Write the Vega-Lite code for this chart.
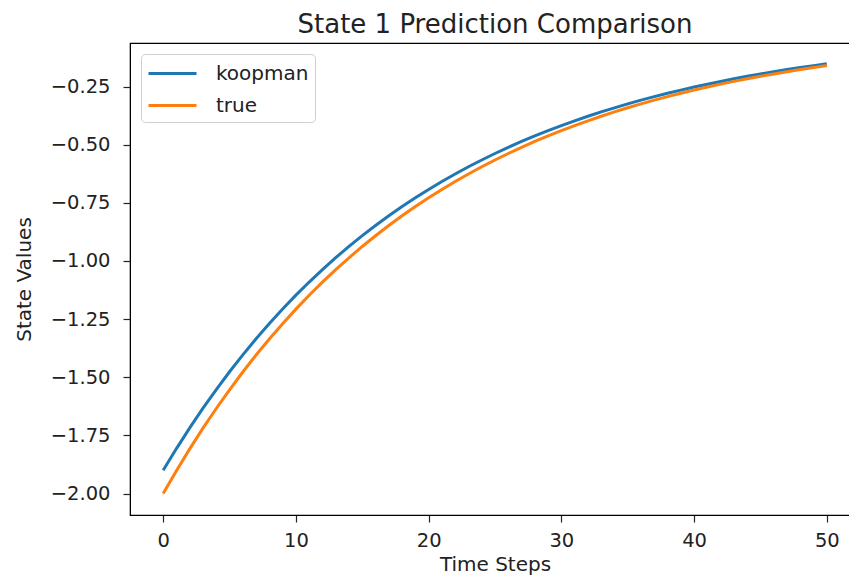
{
  "$schema": "https://vega.github.io/schema/vega-lite/v6.json",
  "width": 730,
  "height": 472,
  "autosize": {"type": "none"},
  "padding": {"left": 130, "top": 43, "right": 0, "bottom": 71},
  "background": "white",
  "title": {"text": "State 1 Prediction Comparison", "font": "DejaVu Sans", "fontSize": 26, "fontWeight": "normal", "color": "#222", "anchor": "middle", "offset": 5},
  "config": {
    "view": {"stroke": "#000", "strokeWidth": 1.2},
    "axis": {"labelFont": "DejaVu Sans", "titleFont": "DejaVu Sans", "labelFontSize": 19.5, "titleFontSize": 20, "titleFontWeight": "normal", "labelColor": "#222", "titleColor": "#222", "tickColor": "#222", "domainColor": "#000", "grid": false, "tickSize": 7, "tickWidth": 1.2}
  },
  "data": {"values": [
    {"t":0,"s":"koopman","v":-1.9000},{"t":1,"s":"koopman","v":-1.8065},{"t":2,"s":"koopman","v":-1.7176},{"t":3,"s":"koopman","v":-1.6330},{"t":4,"s":"koopman","v":-1.5527},
    {"t":5,"s":"koopman","v":-1.4762},{"t":6,"s":"koopman","v":-1.4036},{"t":7,"s":"koopman","v":-1.3345},{"t":8,"s":"koopman","v":-1.2688},{"t":9,"s":"koopman","v":-1.2064},
    {"t":10,"s":"koopman","v":-1.1470},{"t":11,"s":"koopman","v":-1.0906},{"t":12,"s":"koopman","v":-1.0369},{"t":13,"s":"koopman","v":-0.9858},{"t":14,"s":"koopman","v":-0.9374},
    {"t":15,"s":"koopman","v":-0.8912},{"t":16,"s":"koopman","v":-0.8473},{"t":17,"s":"koopman","v":-0.8056},{"t":18,"s":"koopman","v":-0.7659},{"t":19,"s":"koopman","v":-0.7283},
    {"t":20,"s":"koopman","v":-0.6924},{"t":21,"s":"koopman","v":-0.6584},{"t":22,"s":"koopman","v":-0.6260},{"t":23,"s":"koopman","v":-0.5951},{"t":24,"s":"koopman","v":-0.5658},
    {"t":25,"s":"koopman","v":-0.5380},{"t":26,"s":"koopman","v":-0.5115},{"t":27,"s":"koopman","v":-0.4863},{"t":28,"s":"koopman","v":-0.4624},{"t":29,"s":"koopman","v":-0.4397},
    {"t":30,"s":"koopman","v":-0.4180},{"t":31,"s":"koopman","v":-0.3975},{"t":32,"s":"koopman","v":-0.3779},{"t":33,"s":"koopman","v":-0.3593},{"t":34,"s":"koopman","v":-0.3416},
    {"t":35,"s":"koopman","v":-0.3248},{"t":36,"s":"koopman","v":-0.3088},{"t":37,"s":"koopman","v":-0.2936},{"t":38,"s":"koopman","v":-0.2791},{"t":39,"s":"koopman","v":-0.2655},
    {"t":40,"s":"koopman","v":-0.2523},{"t":41,"s":"koopman","v":-0.2400},{"t":42,"s":"koopman","v":-0.2281},{"t":43,"s":"koopman","v":-0.2169},{"t":44,"s":"koopman","v":-0.2062},
    {"t":45,"s":"koopman","v":-0.1961},{"t":46,"s":"koopman","v":-0.1865},{"t":47,"s":"koopman","v":-0.1772},{"t":48,"s":"koopman","v":-0.1685},{"t":49,"s":"koopman","v":-0.1602},
    {"t":50,"s":"koopman","v":-0.1523},
    {"t":0,"s":"true","v":-2.0000},{"t":1,"s":"true","v":-1.9015},{"t":2,"s":"true","v":-1.8079},{"t":3,"s":"true","v":-1.7188},{"t":4,"s":"true","v":-1.6342},
    {"t":5,"s":"true","v":-1.5537},{"t":6,"s":"true","v":-1.4772},{"t":7,"s":"true","v":-1.4044},{"t":8,"s":"true","v":-1.3353},{"t":9,"s":"true","v":-1.2695},
    {"t":10,"s":"true","v":-1.2070},{"t":11,"s":"true","v":-1.1476},{"t":12,"s":"true","v":-1.0911},{"t":13,"s":"true","v":-1.0373},{"t":14,"s":"true","v":-0.9863},
    {"t":15,"s":"true","v":-0.9377},{"t":16,"s":"true","v":-0.8915},{"t":17,"s":"true","v":-0.8476},{"t":18,"s":"true","v":-0.8058},{"t":19,"s":"true","v":-0.7662},
    {"t":20,"s":"true","v":-0.7284},{"t":21,"s":"true","v":-0.6926},{"t":22,"s":"true","v":-0.6585},{"t":23,"s":"true","v":-0.6260},{"t":24,"s":"true","v":-0.5952},
    {"t":25,"s":"true","v":-0.5659},{"t":26,"s":"true","v":-0.5380},{"t":27,"s":"true","v":-0.5115},{"t":28,"s":"true","v":-0.4863},{"t":29,"s":"true","v":-0.4624},
    {"t":30,"s":"true","v":-0.4396},{"t":31,"s":"true","v":-0.4180},{"t":32,"s":"true","v":-0.3974},{"t":33,"s":"true","v":-0.3778},{"t":34,"s":"true","v":-0.3592},
    {"t":35,"s":"true","v":-0.3415},{"t":36,"s":"true","v":-0.3247},{"t":37,"s":"true","v":-0.3087},{"t":38,"s":"true","v":-0.2935},{"t":39,"s":"true","v":-0.2791},
    {"t":40,"s":"true","v":-0.2653},{"t":41,"s":"true","v":-0.2523},{"t":42,"s":"true","v":-0.2398},{"t":43,"s":"true","v":-0.2280},{"t":44,"s":"true","v":-0.2168},
    {"t":45,"s":"true","v":-0.2061},{"t":46,"s":"true","v":-0.1960},{"t":47,"s":"true","v":-0.1863},{"t":48,"s":"true","v":-0.1771},{"t":49,"s":"true","v":-0.1684},
    {"t":50,"s":"true","v":-0.1601}
  ]},
  "mark": {"type": "line", "strokeWidth": 3, "clip": true},
  "encoding": {
    "x": {"field": "t", "type": "quantitative", "title": "Time Steps",
      "scale": {"domain": [-2.5, 52.5], "nice": false, "zero": false},
      "axis": {"values": [0, 10, 20, 30, 40, 50], "labelPadding": 9, "titlePadding": 5}},
    "y": {"field": "v", "type": "quantitative", "title": "State Values",
      "scale": {"domain": [-2.092, -0.063], "nice": false, "zero": false},
      "axis": {"values": [-2.0, -1.75, -1.5, -1.25, -1.0, -0.75, -0.5, -0.25], "format": ".2f", "labelPadding": 13, "titlePadding": 16}},
    "color": {"field": "s", "type": "nominal",
      "scale": {"domain": ["koopman", "true"], "range": ["#1f77b4", "#ff7f0e"]},
      "legend": {"title": null, "orient": "none", "legendX": 11, "legendY": 11,
        "symbolType": "M-1,0H3", "symbolStrokeWidth": 3, "symbolSize": 576,
        "labelFont": "DejaVu Sans", "labelFontSize": 20, "labelColor": "#222",
        "labelOffset": 42, "rowPadding": 8, "padding": 6,
        "strokeColor": "#d0d0d0", "fillColor": "white", "cornerRadius": 4}}
  }
}
